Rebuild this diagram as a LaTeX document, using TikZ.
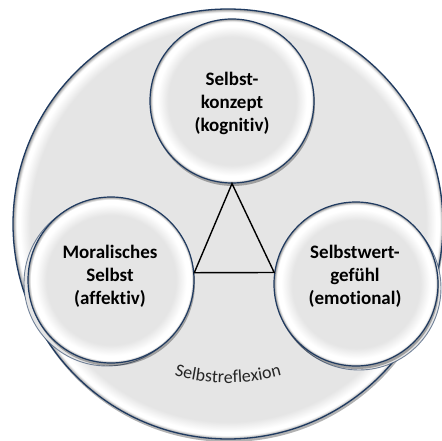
\documentclass[tikz,border=0pt]{standalone}
\usepackage{fontspec}
\setmainfont[Ligatures=NoCommon]{Carlito}
\usetikzlibrary{shadows,decorations.text}
\definecolor{cfill}{RGB}{229,229,229}
\definecolor{navy}{RGB}{31,58,96}
\definecolor{rimgray}{RGB}{150,150,150}
\pgfdeclareradialshading{bevelsmall}{\pgfpoint{0bp}{0bp}}{color(0bp)=(cfill); color(19.5bp)=(cfill); color(22.8bp)=(white); color(24.2bp)=(white); color(25bp)=(rimgray); color(50bp)=(rimgray)}
\pgfdeclareradialshading{bevelbig}{\pgfpoint{0bp}{0bp}}{color(0bp)=(cfill); color(23bp)=(cfill); color(24.2bp)=(white); color(24.6bp)=(white); color(25bp)=(rimgray); color(50bp)=(rimgray)}
\tikzset{
  bigdisc/.style={circle, inner sep=0pt, minimum size=430pt, shading=bevelbig, draw=navy, line width=1.3pt,
    drop shadow={shadow xshift=1pt, shadow yshift=-3pt, opacity=0.3, fill=black}},
  disc/.style={circle, inner sep=0pt, minimum size=#1, shading=bevelsmall, draw=navy, line width=1.2pt,
    drop shadow={shadow xshift=1pt, shadow yshift=-3pt, opacity=0.3, fill=black}},
  ghost/.style={circle, inner sep=0pt, minimum size=#1, fill=cfill, draw=navy, line width=0.9pt, draw opacity=0.6},
  lbl/.style={align=center, font=\fontsize{19}{23}\selectfont\bfseries, text=black},
  tri/.style={draw=black, line width=1.4pt, line join=miter}
}
\begin{document}
\begin{tikzpicture}[x=1pt,y=1pt]
\useasboundingbox (0,0) rectangle (442,-441);
% outer circle
\node[bigdisc] (big) at (228,-224) {};
% ghost shadows of side circles
\node[ghost=166pt] (Lg) at (107,-283) {};
\node[ghost=164pt] (Rg) at (359,-288) {};
% three circles
\node[disc=164pt] (T) at (232,-101) {};
\node[disc=166pt] (L) at (111,-280) {};
\node[disc=164pt] (R) at (356,-284) {};
% texts
\node[lbl] (Tt) at (232,-103) {Selbst-\\konzept\\(kognitiv)};
\node[lbl] (Lt) at (110,-276) {Moralisches\\Selbst\\(affektiv)};
\node[lbl] (Rt) at (355,-276) {Selbstwert-\\gefühl\\(emotional)};
% triangle
\coordinate (apex) at (T.south);
\coordinate (bl) at (L.5);
\coordinate (br) at (R.172);
\draw[tri] (apex) -- (bl) -- (br) -- cycle;
% curved label
\path[decorate, decoration={text along path, text align=center,
  text={|\fontsize{18}{21}\selectfont\color{black!85}|Selbstreflexion}}]
  (big.center) ++(0,39) ++(236:198) arc[start angle=236, end angle=304, radius=198];
\end{tikzpicture}
\end{document}
